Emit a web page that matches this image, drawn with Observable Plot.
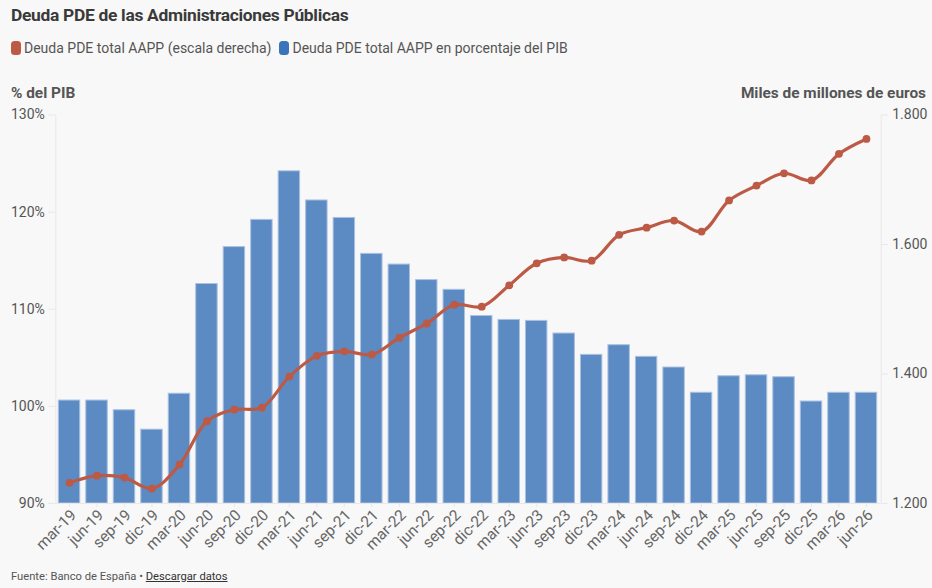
<!DOCTYPE html>
<html><head><meta charset="utf-8">
<script src="https://cdn.jsdelivr.net/npm/d3@7"></script>
<script src="https://cdn.jsdelivr.net/npm/@observablehq/plot@0.6"></script>
<style>
html,body{margin:0;padding:0;background:#f8f8f8;width:932px;height:588px;overflow:hidden;font-family:Roboto,sans-serif}
#wrap{position:relative;width:932px;height:588px}
#wrap>div{position:absolute;white-space:nowrap}
#t{left:11px;top:5px;font-size:17.4px;letter-spacing:-0.3px;font-weight:700;color:#3a3a3a}
#l{left:11px;top:40px;font-size:14px;color:#555;display:flex;align-items:center}
#l i{display:inline-block;width:9.5px;height:14.5px;border-radius:3.5px;margin-right:3.5px}
#l span{margin-right:8px}
#a1{left:11px;top:84px;font-size:15.4px;font-weight:700;color:#555}
#a2{right:6px;top:84px;font-size:15.4px;font-weight:700;color:#555}
#f{left:11px;top:570px;font-size:11.2px;color:#555}
#f u{color:#333}
#c{left:0;top:100px}
svg{overflow:visible}
</style></head><body>
<div id="wrap">
<div id="t">Deuda PDE de las Administraciones Públicas</div>
<div id="l"><i style="background:#bc5a45"></i><span>Deuda PDE total AAPP (escala derecha)</span><i style="background:#3b74b8"></i><span>Deuda PDE total AAPP en porcentaje del PIB</span></div>
<div id="a1">% del PIB</div>
<div id="a2">Miles de millones de euros</div>
<div id="c"></div>
<div id="f">Fuente: Banco de España • <u>Descargar datos</u></div>
</div>
<script>
const periods = ["mar-19","jun-19","sep-19","dic-19","mar-20","jun-20","sep-20","dic-20","mar-21","jun-21","sep-21","dic-21","mar-22","jun-22","sep-22","dic-22","mar-23","jun-23","sep-23","dic-23","mar-24","jun-24","sep-24","dic-24","mar-25","jun-25","sep-25","dic-25","mar-26","jun-26"];
const pctPib = [100.6,100.6,99.6,97.6,101.3,112.6,116.4,119.2,124.2,121.2,119.4,115.7,114.6,113,112,109.3,108.9,108.8,107.5,105.3,106.3,105.1,104,101.4,103.1,103.2,103,100.5,101.4,101.4];
const deuda = [1232,1243,1240,1223,1260,1327,1345,1348,1396,1428,1435,1430,1456,1478,1507,1504,1537,1571,1580,1575,1615,1626,1637,1620,1668,1691,1710,1699,1740,1763];
const leftTicks = [90,100,110,120,130];
const rightTicks = [1200,1400,1600,1800];

const toLeft = d3.scaleLinear([1200,1800],[90,130]);
const bars = periods.map((p,i)=>({p,v:pctPib[i]}));
const line = periods.map((p,i)=>({p,v:toLeft(deuda[i])}));
const fmtR = d => d3.format(",")(Math.round(toLeft.invert(d))).replace(/,/g,".");
const axisCol = "#e8e8e8", red = "#bc5a45";

const chart = Plot.plot({
  width:932, height:460,
  marginTop:14.5, marginBottom:57, marginLeft:55.3, marginRight:52.3,
  style:{background:"transparent",fontFamily:"Roboto,sans-serif",fontSize:"14px",color:"#555"},
  x:{type:"band",domain:periods,round:false,paddingInner:0.22,paddingOuter:0.11,label:null},
  y:{domain:[90,130],label:null},
  marks:[
    Plot.frame({anchor:"left",stroke:axisCol}),
    Plot.frame({anchor:"right",dx:1,stroke:axisCol}),
    Plot.barY(bars,{x:"p",y1:90,y2:"v",fill:"#5c8ac3",stroke:"#a9c1e2",strokeWidth:1}),
    Plot.ruleY([90],{stroke:axisCol,insetLeft:-7,insetRight:-1}),
    Plot.axisX({tickSize:4,stroke:axisCol,fill:"none",label:null}),
    Plot.axisX({tickRotate:-45,tickSize:0,tickPadding:9,dx:4,fill:"#666",fontSize:15.5,label:null}),
    Plot.axisY({anchor:"left",ticks:leftTicks,tickFormat:d=>d+"%",tickSize:7,tickPadding:4,stroke:axisCol,fill:"#555",fontSize:14,label:null}),
    Plot.axisY({anchor:"right",ticks:rightTicks.map(toLeft),tickFormat:fmtR,tickSize:6,dx:1,tickPadding:5,stroke:axisCol,fill:"#555",fontSize:14,label:null}),
    Plot.line(line,{x:"p",y:"v",stroke:red,strokeWidth:3.2,curve:"catmull-rom"}),
    Plot.dot(line,{x:"p",y:"v",fill:red,r:3.9})
  ]
});
document.getElementById("c").appendChild(chart);
</script>
</body></html>
